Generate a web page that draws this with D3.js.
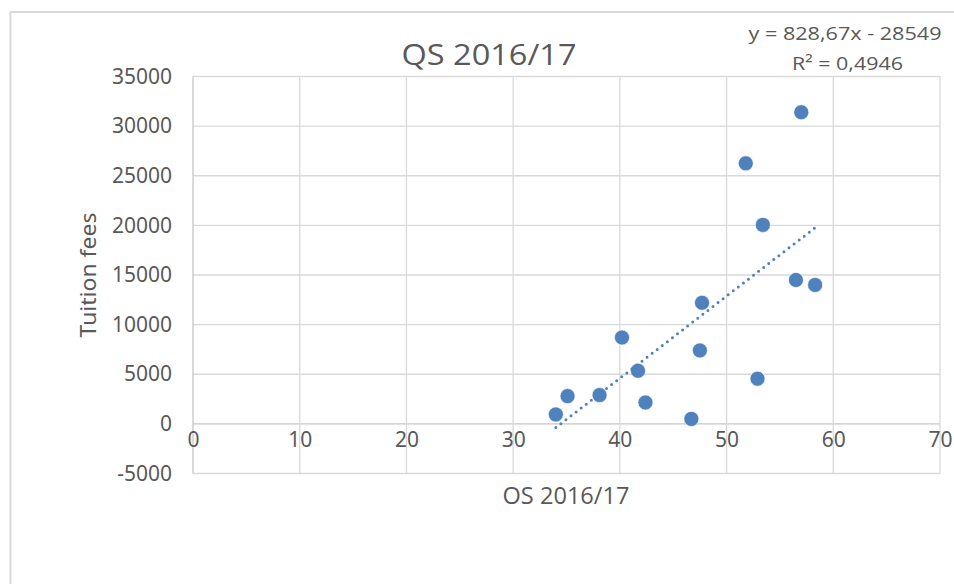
<!DOCTYPE html>
<html>
<head>
<meta charset="utf-8">
<script src="https://cdn.jsdelivr.net/npm/d3@7"></script>
<style>
  body { margin: 0; background: #fff; }
  text { fill: #595959; }
</style>
</head>
<body>
<div id="chart"></div>
<script>
// QS score vs tuition fees
const qsScore = [57.0, 51.8, 53.4, 56.5, 58.3, 47.7, 40.2, 47.5, 41.7, 52.9, 35.1, 38.1, 42.4, 34.0, 46.7];
const tuition = [31400, 26250, 20050, 14500, 14000, 12200, 8700, 7400, 5350, 4550, 2800, 2900, 2150, 950, 500];

const xTicks = [0, 10, 20, 30, 40, 50, 60, 70];
const yTicks = [-5000, 0, 5000, 10000, 15000, 20000, 25000, 30000, 35000];

// trendline shown in the chart
const slope = 828.67;
const intercept = -28549;
const eqLines = ["y = 828,67x - 28549", "R² = 0,4946"];

const width = 954;
const height = 584;
const margin = { top: 76.5, right: 14, bottom: 110.5, left: 193 };

const svg = d3.select("#chart")
    .append("svg")
    .attr("width", width)
    .attr("height", height);

// chart frame
svg.append("rect")
    .attr("x", 10.5)
    .attr("y", 12)
    .attr("width", 1000)
    .attr("height", 1000)
    .attr("fill", "none")
    .attr("stroke", "#d9d9d9")
    .attr("stroke-width", 2);

const x = d3.scaleLinear()
    .domain([0, 70])
    .range([margin.left, width - margin.right]);

const y = d3.scaleLinear()
    .domain([-5000, 35000])
    .range([height - margin.bottom, margin.top]);

// gridlines
svg.append("g")
    .selectAll("line")
    .data(yTicks)
    .enter().append("line")
    .attr("x1", x(0))
    .attr("x2", x(70))
    .attr("y1", d => y(d))
    .attr("y2", d => y(d))
    .attr("stroke", d => d === 0 ? "#c6c6c6" : "#d9d9d9")
    .attr("stroke-width", 1.3);

svg.append("g")
    .selectAll("line")
    .data(xTicks)
    .enter().append("line")
    .attr("x1", d => x(d))
    .attr("x2", d => x(d))
    .attr("y1", y(35000))
    .attr("y2", y(-5000))
    .attr("stroke", d => d === 0 ? "#c6c6c6" : "#d9d9d9")
    .attr("stroke-width", 1.3);

// y tick labels, plain numbers with a hyphen minus like Excel
const yAxis = d3.axisLeft(y)
    .tickValues(yTicks)
    .tickFormat(d => String(d))
    .tickSize(0)
    .tickPadding(21);
svg.append("g")
    .attr("transform", `translate(${x(0)},0)`)
    .call(yAxis)
    .call(g => g.select(".domain").remove())
    .selectAll("text")
    .attr("font-family", "'Noto Sans', 'Open Sans', sans-serif")
    .attr("font-size", 21)
    .attr("fill", "#595959");

// x tick labels sit under the zero line
const xAxis = d3.axisBottom(x)
    .tickValues(xTicks)
    .tickFormat(d => String(d))
    .tickSize(0)
    .tickPadding(8);
svg.append("g")
    .attr("transform", `translate(0,${y(0)})`)
    .call(xAxis)
    .call(g => g.select(".domain").remove())
    .selectAll("text")
    .attr("font-family", "'Noto Sans', 'Open Sans', sans-serif")
    .attr("font-size", 21)
    .attr("fill", "#595959");

// points
const points = qsScore.map((q, i) => ({ q: q, fee: tuition[i] }));

svg.append("g")
    .selectAll("circle")
    .data(points)
    .enter().append("circle")
    .attr("cx", d => x(d.q))
    .attr("cy", d => y(d.fee))
    .attr("r", 7.5)
    .attr("fill", "#4f81bd")
    .attr("stroke", "#fff")
    .attr("stroke-width", 0.6);

// dotted linear trendline between min and max x
const xMin = d3.min(qsScore);
const xMax = d3.max(qsScore);
svg.append("line")
    .attr("x1", x(xMin))
    .attr("y1", y(slope * xMin + intercept))
    .attr("x2", x(xMax))
    .attr("y2", y(slope * xMax + intercept))
    .attr("stroke", "#4f81bd")
    .attr("stroke-width", 3)
    .attr("stroke-linecap", "round")
    .attr("stroke-dasharray", "0 6.4");

// titles
const font = "'Open Sans', 'Noto Sans', sans-serif";

svg.append("text")
    .attr("x", 489)
    .attr("y", 65)
    .attr("text-anchor", "middle")
    .attr("font-family", font)
    .attr("font-size", 30)
    .attr("textLength", 175)
    .attr("lengthAdjust", "spacingAndGlyphs")
    .text("QS 2016/17");

svg.append("text")
    .attr("x", 566)
    .attr("y", 503.5)
    .attr("text-anchor", "middle")
    .attr("font-family", font)
    .attr("font-size", 23)
    .attr("textLength", 127)
    .attr("lengthAdjust", "spacingAndGlyphs")
    .text("OS 2016/17");

svg.append("text")
    .attr("transform", `translate(96,${(y(35000) + y(-5000)) / 2}) rotate(-90)`)
    .attr("text-anchor", "middle")
    .attr("font-family", "'Noto Sans', 'Open Sans', sans-serif")
    .attr("font-size", 22)
    .attr("textLength", 125)
    .attr("lengthAdjust", "spacingAndGlyphs")
    .text("Tuition fees");

// equation label
svg.append("text")
    .attr("x", 845)
    .attr("y", 40)
    .attr("text-anchor", "middle")
    .attr("font-family", font)
    .attr("font-size", 19)
    .attr("textLength", 193)
    .attr("lengthAdjust", "spacingAndGlyphs")
    .text(eqLines[0]);

svg.append("text")
    .attr("x", 847.5)
    .attr("y", 70)
    .attr("text-anchor", "middle")
    .attr("font-family", font)
    .attr("font-size", 19)
    .attr("textLength", 111)
    .attr("lengthAdjust", "spacingAndGlyphs")
    .text(eqLines[1]);
</script>
</body>
</html>
